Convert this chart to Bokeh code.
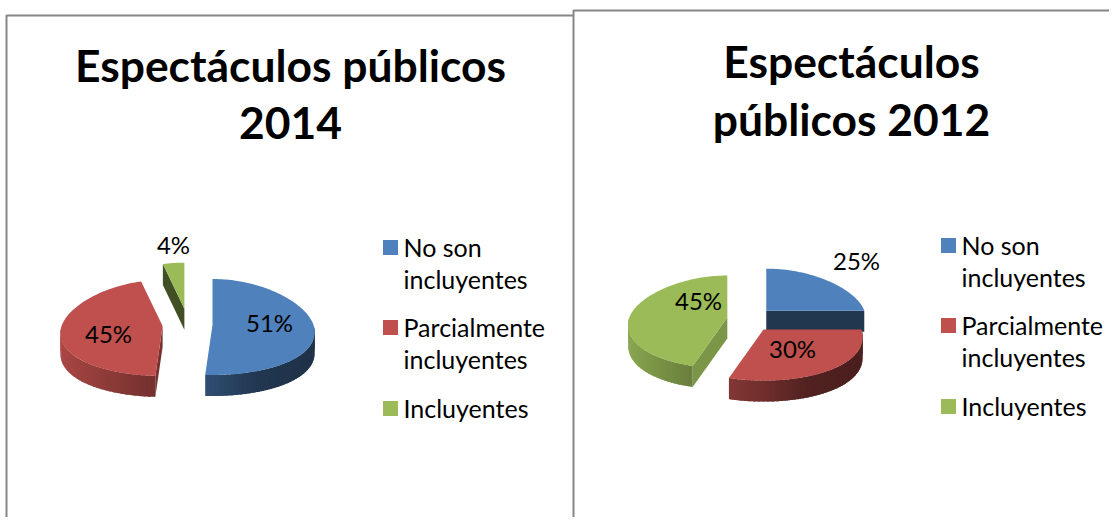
import numpy as np
from bokeh.plotting import figure
from bokeh.models import Range1d
from bokeh.core.properties import value
from bokeh.embed import file_html
from bokeh.resources import INLINE

# ---- data ----
categories = ["No son incluyentes", "Parcialmente incluyentes", "Incluyentes"]
legend_lines = [["No son", "incluyentes"], ["Parcialmente", "incluyentes"], ["Incluyentes"]]
values_2014 = [51, 45, 4]
values_2012 = [25, 30, 45]
title_2014 = ["Espectáculos públicos", "2014"]
title_2012 = ["Espectáculos", "públicos 2012"]

# ---- style / layout ----
W, H = 1109, 517
FONT = "Lato"
colors = ["#4F81BD", "#C0504D", "#9BBB59"]
BORDER = "#868686"
SHADE_X = [-1.0, 0.0, 0.4, 1.0]
SHADE_F = [0.90, 0.58, 0.42, 0.38]
PERSPECTIVE = 0.15


def scale(hexcol, f):
    rgb = [int(hexcol[i:i + 2], 16) for i in (1, 3, 5)]
    return "#%02x%02x%02x" % tuple(int(round(c * f)) for c in rgb)


p = figure(width=W, height=H, output_backend="svg", toolbar_location=None,
           x_range=Range1d(0, W), y_range=Range1d(H, 0), min_border=0,
           outline_line_color=None, background_fill_color="white",
           x_axis_location=None, y_axis_location=None)
p.grid.visible = False


def txt(x, y, s, size, bold=False, align="left", color="black"):
    p.text([x], [y], text=[s], text_font=value(FONT), text_font_size=f"{size}px",
           text_font_style="bold" if bold else "normal", text_align=align,
           text_baseline="middle", text_color=color)


def pie(vals, cx, cy, rx, ry_back, ry_front, depth, ex, ey, cut_shades, label_pos):
    total = sum(vals)
    ang = np.cumsum([0] + list(vals)) / total * 2 * np.pi
    def pt(ax, ay, t):
        t = np.asarray(t, dtype=float)
        c = np.cos(t)
        return (ax + rx * np.sin(t) * (1 - PERSPECTIVE * c),
                ay - np.where(c > 0, ry_back, ry_front) * c)
    layers = []
    for i in range(len(vals)):
        a0, a1 = ang[i], ang[i + 1]
        m = (a0 + a1) / 2
        ax, ay = cx + ex * np.sin(m), cy - ey * np.cos(m)
        layers.append((i, a0, a1, ax, ay))
    # draw back slices first, front slices last
    for i, a0, a1, ax, ay in sorted(layers, key=lambda l: l[4]):
        col = colors[i]
        # cut faces
        for a, vis in ((a0, np.sin(a0) < -1e-6), (a1, np.sin(a1) > 1e-6)):
            if vis:
                ex_, ey_ = pt(ax, ay, a)
                p.patch([ax, float(ex_), float(ex_), ax],
                        [ay, float(ey_), float(ey_) + depth, ay + depth],
                        fill_color=scale(col, cut_shades[i]), line_color=None)
        # curved wall: overlapping strips shaded by position across the pie
        lo, hi = max(a0, np.pi / 2), min(a1, 3 * np.pi / 2)
        if hi > lo:
            ts = np.linspace(lo, hi, int((hi - lo) * 24) + 2)
            for t0, t1 in zip(ts[:-1], ts[1:]):
                arc = np.linspace(t0, min(t1 + 0.03, hi), 6)
                x_, y_ = pt(ax, ay, arc)
                f = float(np.interp(np.sin((t0 + t1) / 2), SHADE_X, SHADE_F))
                p.patch(x_.tolist() + x_[::-1].tolist(),
                        y_.tolist() + (y_[::-1] + depth).tolist(),
                        fill_color=scale(col, f), line_color=None)
        # top face
        ts = np.linspace(a0, a1, 120)
        xs, ys = pt(ax, ay, ts)
        p.patch([ax] + xs.tolist(), [ay] + ys.tolist(), fill_color=col, line_color=None)
    for v, (lx, ly) in zip(vals, label_pos):
        txt(lx, ly, f"{v}%", 24, align="center")


def chart(vals, title, title_cx, title_ys, legend_x, legend_ys, **kw):
    for s, y in zip(title, title_ys):
        txt(title_cx, y, s, 44.4, bold=True, align="center")
    pie(vals, **kw)
    k = 0
    for i, lines in enumerate(legend_lines):
        y0 = legend_ys[k]
        p.scatter([legend_x + 7], [y0 + 1], marker="square", size=15, fill_color=colors[i], line_color=None)
        for ln in lines:
            txt(legend_x + 20, legend_ys[k], ln, 25)
            k += 1


# frames (top and left edges, the rest runs off the page)
p.line([6, 6, 573], [H, 15, 15], line_color=BORDER, line_width=2)
p.line([573, 573, W], [H, 10, 10], line_color=BORDER, line_width=2)

chart(values_2014, title_2014, 290, [64, 122], 383, [246, 278, 326, 358, 407],
      cx=187, cy=324, rx=101, ry_back=46, ry_front=50, depth=21, ex=25, ey=16,
      cut_shades=[0.42, 0.62, 0.42], label_pos=[(269, 322), (108, 333), (173, 244)])
chart(values_2012, title_2012, 851, [60, 118], 941, [244, 276, 324, 356, 405],
      cx=749.5, cy=319, rx=98, ry_back=42, ry_front=51, depth=21, ex=23, ey=12.5,
      cut_shades=[0.42, 0.62, 0.8], label_pos=[(856, 260), (792, 348), (698, 300)])

open("out.html", "w").write(file_html(p, INLINE))
